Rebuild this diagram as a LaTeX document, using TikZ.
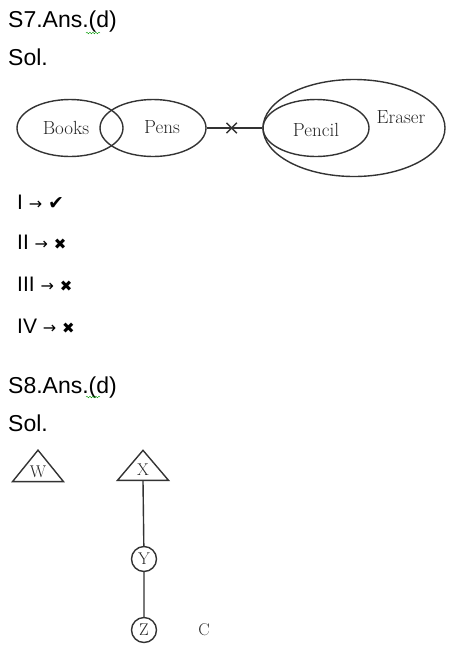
\documentclass[tikz,border=0pt]{standalone}
\usepackage{fontspec}
\newfontfamily\arialfont{Liberation Sans}
\newfontfamily\symbfont{DejaVu Sans}
\usetikzlibrary{shapes,arrows,decorations.pathmorphing}
\begin{document}
\begin{tikzpicture}[x=1pt, y=-1pt,
				menge/.style={draw=black!80, ellipse, line width=1.4pt, inner sep=0pt, minimum width=106pt, minimum height=57pt},
				etikett/.style={text=black!85, inner sep=0pt, font=\fontsize{19}{19}\selectfont},
				titel/.style={anchor=base west, inner sep=0pt, font=\arialfont\fontsize{23}{23}\selectfont},
				zeile/.style={anchor=west, inner sep=0pt, font=\arialfont\fontsize{21}{21}\selectfont},
				dreieck/.style={draw=black!80, isosceles triangle, isosceles triangle stretches, shape border rotate=90, inner sep=0pt, minimum width=51pt, minimum height=30pt, line width=1.4pt, text=black!85, font=\fontsize{17}{17}\selectfont},
				kreis/.style={draw=black!80, circle, inner sep=0pt, minimum size=25pt, line width=1.4pt, text=black!85, font=\fontsize{17}{17}\selectfont},
				linie/.style={line width=1.4pt, draw=black!80},
				welle/.style={green!60!black, decorate, decoration={snake, amplitude=0.8pt, segment length=3pt}}]
				\useasboundingbox (0,0) rectangle (451,649);
				% S7
				\node[titel] (s7) at (8,27) {S7.Ans.(d)};
				\draw[welle] (86,33) -- (100,33);
				\node[titel] (sol7) at (8,65) {Sol.};
				% Mengen
				\node[menge] (books) at (70,128) {};
				\node[menge] (pens) at (153,128) {};
				\node[menge, minimum width=182pt, minimum height=97pt] (eraser) at (354,128) {};
				\node[menge] (pencil) at (316,128) {};
				\node[etikett] at (66,128) {Books};
				\node[etikett] at (162,127) {Pens};
				\node[etikett] at (316,130) {Pencil};
				\node[etikett] at (401,117) {Eraser};
				\draw[linie] (pens.east) -- node[pos=0.45, draw=black!80, cross out, minimum size=9pt, inner sep=0pt, line width=1.4pt] (kreuz) {} (pencil.west);
				% Aussagen
				\foreach \n/\r/\m/\s/\y in {1/I/✔/19/202, 2/II/✖/15/242, 3/III/✖/15/284, 4/IV/✖/15/326}
					\node[zeile] (zeile\n) at (17,\y) {\r{} {\symbfont\fontsize{16}{16}\selectfont →} {\symbfont\fontsize{\s}{\s}\selectfont \m}};
				% S8
				\node[titel] (s8) at (8,393) {S8.Ans.(d)};
				\draw[welle] (86,397) -- (100,397);
				\node[titel] (sol8) at (8,431) {Sol.};
				\node[dreieck] (w) at (38,472) {W};
				\node[dreieck] (x) at (143,470) {X};
				\node[kreis] (y) at (144,559) {Y};
				\node[kreis] (z) at (144,630) {Z};
				\draw[linie] (x.lower side) -- (y) -- (z);
				\node[etikett, font=\fontsize{17}{17}\selectfont] (c) at (204,630) {C};
			\end{tikzpicture}
\end{document}
